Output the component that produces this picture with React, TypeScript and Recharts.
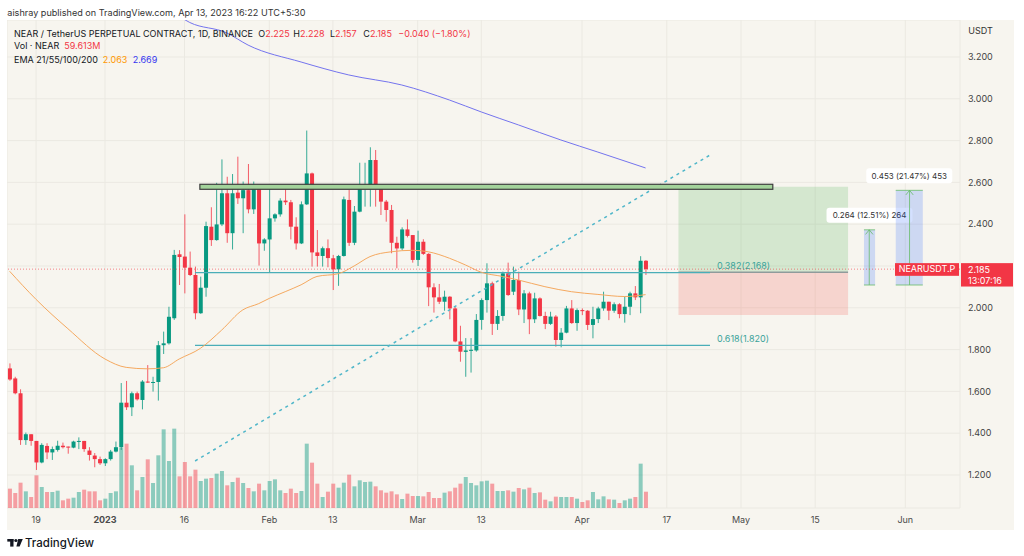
import React from "react";
import {
  ComposedChart,
  Bar,
  Line,
  XAxis,
  YAxis,
  CartesianGrid,
  ReferenceLine,
  ReferenceArea,
  Cell,
} from "recharts";

// day index: 0 = Jan 1 2023, first candle is Dec 14 2022
const FIRST_DAY = -18;

const OPEN = [
  1.710, 1.662, 1.591, 1.367, 1.395, 1.363, 1.260, 1.339, 1.308, 1.320,
  1.340, 1.336, 1.331, 1.360, 1.363, 1.317, 1.293, 1.276, 1.256, 1.276,
  1.312, 1.333, 1.546, 1.524, 1.591, 1.559, 1.647, 1.641, 1.645, 1.821,
  1.830, 1.950, 2.256, 2.245, 2.192, 2.157, 1.974, 2.096, 2.388, 2.324,
  2.399, 2.548, 2.357, 2.551, 2.524, 2.563, 2.471, 2.579, 2.308, 2.327,
  2.428, 2.447, 2.513, 2.505, 2.388, 2.308, 2.495, 2.643, 2.265, 2.248,
  2.285, 2.237, 2.184, 2.248, 2.516, 2.311, 2.460, 2.580, 2.580, 2.707,
  2.572, 2.508, 2.468, 2.311, 2.284, 2.375, 2.348, 2.229, 2.316, 2.258,
  2.098, 2.050, 2.029, 2.053, 1.997, 1.839, 1.789, 1.794, 1.796, 1.942,
  2.037, 2.117, 1.923, 1.961, 2.165, 2.077, 2.133, 1.992, 2.069, 1.945,
  2.045, 1.961, 1.923, 1.958, 1.846, 1.881, 1.997, 1.927, 1.989, 1.986,
  1.918, 1.946, 1.997, 2.029, 1.986, 2.017, 1.970, 2.005, 2.069, 2.050,
  2.225,
];
const HIGH = [
  1.734, 1.670, 1.610, 1.403, 1.395, 1.363, 1.352, 1.352, 1.336, 1.364,
  1.355, 1.336, 1.364, 1.380, 1.363, 1.333, 1.305, 1.288, 1.280, 1.320,
  1.360, 1.640, 1.650, 1.599, 1.599, 1.654, 1.726, 1.670, 1.841, 1.886,
  2.005, 2.277, 2.276, 2.447, 2.269, 2.197, 2.149, 2.412, 2.481, 2.598,
  2.710, 2.627, 2.640, 2.723, 2.604, 2.688, 2.604, 2.587, 2.333, 2.587,
  2.452, 2.524, 2.584, 2.516, 2.433, 2.509, 2.848, 2.647, 2.372, 2.293,
  2.327, 2.253, 2.253, 2.532, 2.564, 2.487, 2.694, 2.694, 2.768, 2.755,
  2.572, 2.516, 2.492, 2.340, 2.385, 2.423, 2.348, 2.369, 2.328, 2.261,
  2.117, 2.114, 2.082, 2.056, 2.005, 1.914, 1.855, 1.855, 1.970, 2.045,
  2.213, 2.125, 1.989, 2.173, 2.216, 2.197, 2.173, 2.085, 2.077, 2.072,
  2.050, 1.981, 1.981, 1.965, 1.903, 2.009, 2.037, 1.997, 1.997, 1.989,
  2.005, 2.005, 2.077, 2.029, 2.026, 2.022, 2.054, 2.077, 2.104, 2.247,
  2.228,
];
const LOW = [
  1.651, 1.586, 1.344, 1.344, 1.340, 1.224, 1.256, 1.276, 1.272, 1.312,
  1.327, 1.302, 1.328, 1.324, 1.311, 1.269, 1.237, 1.248, 1.243, 1.269,
  1.308, 1.320, 1.511, 1.482, 1.556, 1.514, 1.641, 1.599, 1.556, 1.779,
  1.824, 1.942, 2.109, 2.069, 2.152, 1.945, 1.971, 2.053, 2.296, 2.321,
  2.391, 2.311, 2.279, 2.497, 2.357, 2.452, 2.449, 2.202, 2.273, 2.168,
  2.412, 2.436, 2.492, 2.327, 2.279, 2.305, 2.492, 2.197, 2.197, 2.197,
  2.194, 2.085, 2.105, 2.245, 2.296, 2.300, 2.457, 2.484, 2.484, 2.484,
  2.444, 2.412, 2.261, 2.189, 2.276, 2.337, 2.216, 2.200, 2.253, 2.008,
  1.977, 2.018, 1.986, 1.945, 1.835, 1.742, 1.670, 1.690, 1.790, 1.895,
  1.977, 1.870, 1.894, 1.938, 2.057, 2.061, 1.965, 1.927, 1.874, 1.927,
  1.958, 1.898, 1.918, 1.814, 1.811, 1.878, 1.923, 1.890, 1.965, 1.894,
  1.854, 1.927, 1.986, 1.941, 1.976, 1.950, 1.929, 1.965, 2.037, 1.974,
  2.157,
];
const CLOSE = [
  1.657, 1.591, 1.367, 1.395, 1.363, 1.260, 1.344, 1.308, 1.324, 1.340,
  1.333, 1.331, 1.360, 1.363, 1.324, 1.296, 1.276, 1.256, 1.276, 1.312,
  1.333, 1.546, 1.524, 1.591, 1.562, 1.647, 1.643, 1.645, 1.821, 1.830,
  1.957, 2.253, 2.243, 2.192, 2.157, 1.974, 2.096, 2.391, 2.324, 2.399,
  2.548, 2.357, 2.548, 2.524, 2.563, 2.471, 2.579, 2.308, 2.327, 2.428,
  2.447, 2.513, 2.505, 2.388, 2.308, 2.495, 2.643, 2.265, 2.248, 2.285,
  2.238, 2.184, 2.248, 2.519, 2.311, 2.460, 2.580, 2.584, 2.707, 2.572,
  2.508, 2.468, 2.311, 2.284, 2.375, 2.344, 2.229, 2.316, 2.258, 2.098,
  2.050, 2.029, 2.053, 1.997, 1.839, 1.790, 1.796, 1.799, 1.942, 2.037,
  2.117, 1.923, 1.961, 2.165, 2.061, 2.133, 1.992, 2.069, 1.945, 2.045,
  1.961, 1.923, 1.958, 1.846, 1.881, 1.997, 1.927, 1.989, 1.984, 1.918,
  1.946, 1.997, 2.029, 1.986, 2.017, 1.970, 2.005, 2.069, 2.050, 2.225,
  2.185,
];
// volume, millions of NEAR
const VOLUME = [
  70.8, 54.9, 92.7, 61.0, 40.3, 119.6, 76.9, 58.6, 58.6, 63.4,
  28.1, 34.2, 37.8, 58.6, 67.1, 61.0, 61.0, 28.1, 34.2, 54.9,
  61.0, 220.8, 235.5, 156.2, 64.7, 113.5, 178.1, 91.5, 192.8, 287.9,
  172.0, 290.4, 115.9, 168.4, 115.9, 140.3, 98.8, 107.4, 109.8, 125.7,
  135.4, 83.0, 95.2, 111.0, 91.5, 73.2, 61.0, 89.1, 64.7, 98.8,
  104.9, 64.7, 54.9, 70.8, 54.9, 62.2, 235.5, 165.9, 89.1, 40.3,
  59.8, 89.1, 74.4, 92.7, 122.0, 79.3, 101.3, 95.2, 96.4, 79.3,
  64.7, 56.1, 61.0, 50.0, 32.9, 52.5, 43.9, 43.9, 42.7, 58.6,
  36.6, 36.6, 56.1, 61.0, 74.4, 89.1, 113.5, 91.5, 83.0, 97.6,
  100.0, 89.1, 62.2, 62.2, 64.7, 59.8, 73.2, 68.3, 74.4, 54.9,
  57.3, 30.5, 24.4, 41.5, 40.3, 40.3, 40.3, 34.2, 22.0, 28.1,
  58.6, 31.7, 42.7, 31.7, 30.5, 18.3, 28.1, 34.2, 40.3, 162.3,
  59.613,
];

const EMA21_DAYS = [-18, -13, -7, 0, 4, 8, 11, 14, 18, 22, 26, 29, 31, 34, 37, 40, 44, 47, 50, 54, 58, 61, 65, 68, 71, 75, 78, 83, 88, 93, 98, 102];
const EMA21 = [2.175, 2.04, 1.9, 1.755, 1.715, 1.708, 1.713, 1.755, 1.806, 1.893, 1.99, 2.02, 2.045, 2.077, 2.11, 2.15, 2.163, 2.2, 2.245, 2.268, 2.275, 2.268, 2.237, 2.205, 2.17, 2.15, 2.133, 2.101, 2.077, 2.064, 2.054, 2.063];
const EMA200_DAYS = [13, 16, 23, 27, 37, 46, 56, 65, 71, 78, 86, 93, 102];
const EMA200 = [3.41, 3.365, 3.315, 3.257, 3.176, 3.114, 3.066, 2.994, 2.937, 2.875, 2.803, 2.745, 2.669];

const X_TICKS = [-13, 0, 15, 31, 43, 59, 71, 90, 106, 120, 134, 151];
const X_LABELS = ["19", "2023", "16", "Feb", "13", "Mar", "13", "Apr", "17", "May", "15", "Jun"];
const PRICE_TICKS = [1.2, 1.4, 1.6, 1.8, 2.0, 2.2, 2.4, 2.6, 2.8, 3.0, 3.2];

const LAST_PRICE = 2.185;
const FIB_382 = 2.168;
const FIB_618 = 1.82;
const ZONE = [2.567, 2.591];
const LONG_ENTRY = 2.17;
const LONG_TARGET = 2.579;
const LONG_STOP = 1.966;
const RANGE_BASE = 2.109;
const RANGE_TOPS = [2.373, 2.562];

const GREEN = "#089981";
const RED = "#f23645";
const BG = "#f7f5ef";
const GRID = "#ebe9e2";
const TEAL = "#4aaeb8";
const FONT = "Inter, 'Noto Sans', sans-serif";

const rows = OPEN.map((open, i) => {
  const day = FIRST_DAY + i;
  const a = EMA21_DAYS.indexOf(day);
  const b = EMA200_DAYS.indexOf(day);
  return {
    day,
    open,
    high: HIGH[i],
    low: LOW[i],
    close: CLOSE[i],
    range: [LOW[i], HIGH[i]],
    volume: VOLUME[i],
    up: CLOSE[i] >= open,
    ema21: a >= 0 ? EMA21[a] : null,
    ema200: b >= 0 ? EMA200[b] : null,
  };
});

function Candle(props: any) {
  const { x, y, width, height, payload } = props;
  if (!payload || x == null) return null;
  const { open, close, high, low } = payload;
  const top = Math.min(y, y + height);
  const h = Math.abs(height);
  const k = h / (high - low || 1);
  const yOf = (v: number) => top + (high - v) * k;
  const color = close >= open ? GREEN : RED;
  const bodyTop = yOf(Math.max(open, close));
  const bodyH = Math.max(1, Math.abs(yOf(open) - yOf(close)));
  const cx = x + width / 2;
  return (
    <g>
      <line x1={cx} x2={cx} y1={top} y2={top + h} stroke={color} strokeOpacity={0.8} strokeWidth={1} />
      <rect x={x} y={bodyTop} width={width} height={bodyH} fill={color} />
    </g>
  );
}

// solid zone rectangle drawn over the candles
function ZoneShape(props: any) {
  const { x, y, width, height } = props;
  if (x == null) return null;
  return <rect x={x} y={y} width={width} height={height} fill="#a3d39b" stroke="#3d3d3d" strokeWidth={1.2} />;
}

function XTick({ x, y, payload }: any) {
  const label = X_LABELS[X_TICKS.indexOf(payload.value)];
  return (
    <text x={x} y={y + 14.5} textAnchor="middle" fontSize={9} fontFamily={FONT}
      fill="#4a4a4a" fontWeight={label === "2023" ? 700 : 400}>
      {label}
    </text>
  );
}

function YTick({ x, y, payload }: any) {
  // 2.200 is hidden behind the last price tag
  if (Math.abs(payload.value - 2.2) < 1e-6) return null;
  return (
    <text x={x + 8} y={y + 3.3} fontSize={9} fontFamily={FONT} fill="#444">
      {payload.value.toFixed(3)}
    </text>
  );
}

const fibLabel = (text: string) => (props: any) => {
  const vb = props.viewBox;
  return (
    <text x={vb.x + vb.width + 7} y={vb.y - 3.5} fontSize={9} fontFamily={FONT} fill="#3aa39a">
      {text}
    </text>
  );
};

const rangeLabel = (text: string, w: number) => (props: any) => {
  const vb = props.viewBox;
  const cx = vb.x + vb.width / 2;
  const bottom = vb.y - 7;
  return (
    <g>
      <rect x={cx - w / 2} y={bottom - 15} width={w} height={15} rx={3} fill="#fff" />
      <text x={cx} y={bottom - 4.5} textAnchor="middle" fontSize={8} fontFamily={FONT} fill="#333">
        {text}
      </text>
    </g>
  );
};

function PriceTag(props: any) {
  const vb = props.viewBox;
  const right = vb.x + vb.width;
  const y = vb.y;
  return (
    <g fontFamily={FONT} fontSize={9}>
      <rect x={right - 65} y={y - 6} width={64} height={12.7} fill={RED} />
      <text x={right - 33} y={y + 3.3} textAnchor="middle" fill="#fff">NEARUSDT.P</text>
      <rect x={right + 1} y={y - 6} width={52} height={23.4} fill={RED} />
      <text x={right + 8} y={y + 3.4} fill="#fff">2.185</text>
      <text x={right + 8} y={y + 14.4} fill="#fff">13:07:16</text>
    </g>
  );
}

const X_DOMAIN = [-18.49, 161.32];
const RANGE_BOXES = [
  { x1: 143.2, x2: 145.3, mid: 144.2, top: RANGE_TOPS[0], text: "0.264 (12.51%) 264" },
  { x1: 149.2, x2: 154.3, mid: 151.8, top: RANGE_TOPS[1], text: "0.453 (21.47%) 453" },
];

export default function App() {
  const ax = { xAxisId: "main", yAxisId: "price" };
  return (
    <div style={{ position: "absolute", left: 0, top: 0, width: 1024, height: 556, background: "#fff", overflow: "hidden" }}>
      <div style={{ position: "absolute", left: 7, top: 20, width: 1007, height: 510, background: BG }} />
      <ComposedChart
        width={1007}
        height={510}
        data={rows}
        margin={{ top: 0, right: 0, bottom: 0, left: 0 }}
        style={{ position: "absolute", left: 7, top: 20 }}
      >
        <CartesianGrid xAxisId="main" yAxisId="price" stroke={GRID} />
        <XAxis
          xAxisId="main"
          dataKey="day"
          type="number"
          domain={X_DOMAIN}
          allowDataOverflow
          ticks={X_TICKS}
          interval={0}
          tick={<XTick />}
          tickSize={0}
          tickMargin={0}
          axisLine={false}
          tickLine={false}
          height={22}
        />
        <XAxis xAxisId="vol" dataKey="day" type="number" domain={X_DOMAIN} allowDataOverflow hide />
        <YAxis
          yAxisId="price"
          orientation="right"
          domain={[1.0421, 3.377]}
          allowDataOverflow
          ticks={PRICE_TICKS}
          interval={0}
          tick={<YTick />}
          tickSize={0}
          tickMargin={0}
          axisLine={false}
          tickLine={false}
          width={54}
        />
        <YAxis yAxisId="vol" domain={[0, 1786]} allowDataOverflow hide />

        <Bar xAxisId="vol" yAxisId="vol" dataKey="volume" barSize={4} isAnimationActive={false}>
          {rows.map((r) => (
            <Cell key={r.day} fill={r.up ? GREEN : RED} fillOpacity={0.45} />
          ))}
        </Bar>

        {/* long position */}
        <ReferenceArea {...ax} x1={108.2} x2={140.2} y1={LONG_ENTRY} y2={LONG_TARGET} fill="#4caf50" fillOpacity={0.2} stroke="none" />
        <ReferenceArea {...ax} x1={108.2} x2={140.2} y1={LONG_STOP} y2={LONG_ENTRY} fill="#f44336" fillOpacity={0.18} stroke="none" />
        <ReferenceLine {...ax} segment={[{ x: 108.2, y: LONG_ENTRY }, { x: 140.2, y: LONG_ENTRY }]} stroke="#8f9b9b" strokeWidth={1.5} />

        {/* price ranges */}
        {RANGE_BOXES.map((b) => (
          <ReferenceArea key={b.text} {...ax} x1={b.x1} x2={b.x2} y1={RANGE_BASE} y2={b.top}
            fill="#2962ff" fillOpacity={0.2} stroke="none" label={rangeLabel(b.text, 86)} />
        ))}
        {RANGE_BOXES.map((b) => (
          <React.Fragment key={b.text + "l"}>
            <ReferenceLine {...ax} segment={[{ x: b.x1, y: RANGE_BASE }, { x: b.x2, y: RANGE_BASE }]} stroke="#66bb6a" strokeOpacity={0.8} />
            <ReferenceLine {...ax} segment={[{ x: b.x1, y: b.top }, { x: b.x2, y: b.top }]} stroke="#66bb6a" strokeOpacity={0.8} />
            <ReferenceLine {...ax} segment={[{ x: b.mid, y: RANGE_BASE }, { x: b.mid, y: b.top }]} stroke="#66bb6a" strokeOpacity={0.8} />
            <ReferenceLine {...ax} segment={[{ x: b.mid - 0.7, y: b.top - 0.022 }, { x: b.mid, y: b.top }]} stroke="#66bb6a" strokeOpacity={0.8} />
            <ReferenceLine {...ax} segment={[{ x: b.mid + 0.7, y: b.top - 0.022 }, { x: b.mid, y: b.top }]} stroke="#66bb6a" strokeOpacity={0.8} />
          </React.Fragment>
        ))}

        {/* fib levels */}
        <ReferenceLine {...ax} segment={[{ x: 16.98, y: FIB_382 }, { x: 114.15, y: FIB_382 }]} stroke={TEAL} strokeWidth={1.2} label={fibLabel("0.382(2.168)")} />
        <ReferenceLine {...ax} segment={[{ x: 16.98, y: FIB_618 }, { x: 114.15, y: FIB_618 }]} stroke={TEAL} strokeWidth={1.2} label={fibLabel("0.618(1.820)")} />

        {/* trend line */}
        <ReferenceLine {...ax} segment={[{ x: 17, y: 1.267 }, { x: 114.15, y: 2.731 }]} stroke="#4fb6c9" strokeWidth={1.5} strokeDasharray="3 4" />

        <Line {...ax} dataKey="ema21" type="monotone" stroke="#f5a960" strokeWidth={1} dot={false} connectNulls isAnimationActive={false} />
        <Line {...ax} dataKey="ema200" type="monotone" stroke="#7474ee" strokeWidth={1} dot={false} connectNulls isAnimationActive={false} />

        <Bar {...ax} dataKey="range" barSize={4} shape={<Candle />} isAnimationActive={false} />

        {/* resistance zone */}
        <ReferenceArea {...ax} x1={17.9} x2={126} y1={ZONE[0]} y2={ZONE[1]} shape={<ZoneShape />} {...({ zIndex: 1100 } as any)} />

        <ReferenceLine {...ax} y={LAST_PRICE} stroke={RED} strokeOpacity={0.6} strokeDasharray="1 2" label={<PriceTag />} />
      </ComposedChart>

      <svg width={1024} height={556} style={{ position: "absolute", left: 0, top: 0, pointerEvents: "none" }} fontFamily={FONT}>
        <text x={7.3} y={16} fontSize={9.1} fill="#333">aishray published on TradingView.com, Apr 13, 2023 16:22 UTC+5:30</text>
        <g fontSize={9}>
          <text x={14} y={36.5} fill="#131722">NEAR / TetherUS PERPETUAL CONTRACT, 1D, BINANCE</text>
          <text x={258.3} y={36.5} fill="#131722">O<tspan fill={RED}>2.225</tspan></text>
          <text x={293.3} y={36.5} fill="#131722">H<tspan fill={RED}>2.228</tspan></text>
          <text x={330} y={36.5} fill="#131722">L<tspan fill={RED}>2.157</tspan></text>
          <text x={363.3} y={36.5} fill="#131722">C<tspan fill={RED}>2.185</tspan></text>
          <text x={398.3} y={36.5} fill={RED}>−0.040 (−1.80%)</text>
          <text x={14} y={48.7} fill="#131722">Vol · NEAR</text>
          <text x={64.3} y={48.7} fill={RED}>59.613M</text>
          <text x={14} y={62.5} fill="#131722">EMA 21/55/100/200</text>
          <text x={102.7} y={62.5} fill="#ff9800">2.063</text>
          <text x={132.7} y={62.5} fill="#3535f0">2.669</text>
        </g>
        <text x={968.3} y={34} fontSize={9} fill="#333">USDT</text>
        <g fill="#131722">
          <rect x={7.3} y={539} width={6.2} height={2.6} />
          <rect x={10.2} y={539} width={3.3} height={7.6} />
          <circle cx={15.9} cy={540.5} r={1.6} />
          <polygon points="18.2,539 22.8,539 19.6,546.6 16.4,546.6" />
        </g>
        <text x={25} y={546.6} fontSize={11.5} fontWeight={500} fill="#131722">TradingView</text>
      </svg>
    </div>
  );
}
